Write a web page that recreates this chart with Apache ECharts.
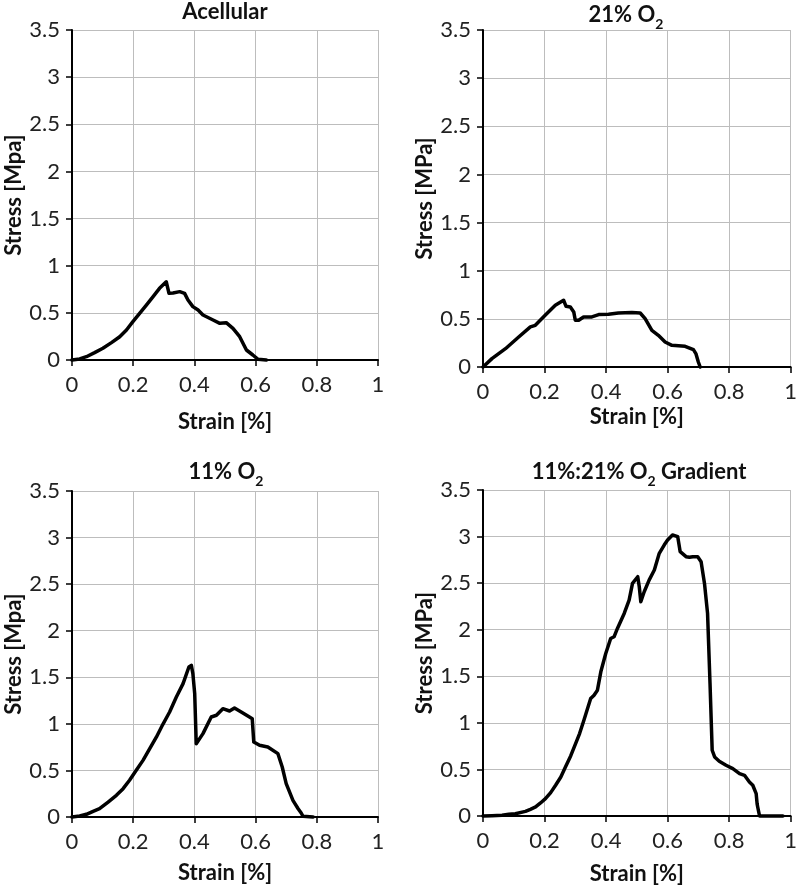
<!DOCTYPE html>
<html>
<head>
<meta charset="utf-8">
<script src="https://cdn.jsdelivr.net/npm/echarts@6/dist/echarts.min.js"></script>
<style>html,body{margin:0;padding:0;background:#fff}#c{width:800px;height:888px}</style>
</head>
<body>
<div id="c"></div>
<script>
// ---- data (strain, stress) ----
const acellularStrain = [0,0.025,0.047,0.074,0.101,0.129,0.156,0.178,0.199,0.221,0.243,0.265,0.286,0.308,0.312,0.317,0.33,0.352,0.368,0.379,0.395,0.412,0.428,0.461,0.483,0.504,0.526,0.548,0.57,0.591,0.608,0.635];
const acellularStress = [0,0.011,0.035,0.078,0.124,0.184,0.247,0.318,0.407,0.495,0.583,0.672,0.76,0.83,0.82,0.707,0.71,0.725,0.707,0.636,0.566,0.53,0.477,0.424,0.389,0.396,0.336,0.247,0.106,0.053,0.007,0];

const o21Strain = [0,0.029,0.073,0.116,0.154,0.17,0.202,0.235,0.262,0.27,0.284,0.295,0.3,0.311,0.327,0.354,0.376,0.408,0.44,0.484,0.511,0.527,0.549,0.57,0.592,0.614,0.657,0.684,0.692,0.7,0.706];
const o21Stress = [0,0.087,0.19,0.312,0.416,0.433,0.537,0.641,0.693,0.63,0.624,0.572,0.485,0.485,0.52,0.52,0.544,0.547,0.561,0.565,0.561,0.502,0.381,0.329,0.26,0.225,0.215,0.18,0.139,0.052,0];

const o11Strain = [0,0.025,0.047,0.069,0.09,0.118,0.145,0.167,0.188,0.21,0.232,0.254,0.276,0.297,0.319,0.341,0.363,0.382,0.39,0.395,0.401,0.406,0.412,0.428,0.455,0.472,0.493,0.515,0.531,0.553,0.58,0.589,0.594,0.613,0.64,0.673,0.687,0.7,0.722,0.739,0.749,0.755,0.788];
const o11Stress = [0,0.011,0.029,0.061,0.089,0.161,0.233,0.304,0.394,0.501,0.608,0.734,0.859,0.995,1.127,1.288,1.432,1.61,1.628,1.539,1.324,0.787,0.787,0.895,1.074,1.092,1.163,1.138,1.17,1.127,1.074,1.056,0.805,0.77,0.752,0.68,0.537,0.358,0.179,0.089,0.043,0.007,0];

const gradStrain = [0,0.029,0.062,0.084,0.105,0.138,0.154,0.171,0.187,0.203,0.22,0.236,0.253,0.268,0.285,0.301,0.314,0.328,0.35,0.361,0.372,0.383,0.399,0.415,0.426,0.437,0.459,0.475,0.486,0.503,0.508,0.513,0.524,0.54,0.557,0.573,0.589,0.6,0.616,0.633,0.641,0.66,0.671,0.682,0.698,0.709,0.72,0.73,0.738,0.745,0.753,0.768,0.79,0.812,0.834,0.85,0.866,0.877,0.888,0.891,0.893,0.899,0.975];
const gradStress = [0,0.004,0.007,0.018,0.025,0.05,0.072,0.097,0.14,0.186,0.251,0.33,0.419,0.527,0.645,0.778,0.885,1.028,1.261,1.297,1.351,1.548,1.745,1.906,1.924,2.014,2.175,2.318,2.497,2.569,2.461,2.3,2.408,2.533,2.641,2.82,2.909,2.963,3.017,2.999,2.838,2.784,2.777,2.784,2.784,2.73,2.497,2.175,1.422,0.706,0.634,0.588,0.545,0.509,0.455,0.437,0.365,0.33,0.24,0.133,0.097,0,0];

const titles = ['{m|Acellular}', '{m|21% O}{s|2}', '{m|11% O}{s|2}', '{m|11%:21% O}{s|2}{m| Gradient}'];
const yNames = ['Stress [Mpa]', 'Stress [MPa]', 'Stress [Mpa]', 'Stress [MPa]'];
const xName = 'Strain [%]';
const xMin = 0, xMax = 1, xStep = 0.2;
const yMin = 0, yMax = 3.5, yStep = 0.5;

// ---- layout ----
const FONT = 'Lato, "Open Sans", sans-serif';
const grids = [
  {left: 72, top: 30, width: 306, height: 330},
  {left: 483, top: 30, width: 309, height: 337},
  {left: 72, top: 491, width: 306, height: 326},
  {left: 483, top: 490, width: 308, height: 326}
];
const titlePos = [
  {x: 225, y: -4}, {x: 626, y: -1}, {x: 226, y: 456}, {x: 639, y: 456}
];
const xNameGap = [51, 39, 45, 47];
const yNameGap = [47, 46, 47, 46];
const seriesData = [
  [acellularStrain, acellularStress],
  [o21Strain, o21Stress],
  [o11Strain, o11Stress],
  [gradStrain, gradStress]
];

const option = {
  backgroundColor: '#fff',
  animation: false,
  title: titles.map((t, i) => ({
    text: t,
    left: titlePos[i].x,
    top: titlePos[i].y,
    padding: 0,
    textAlign: 'center',
    textStyle: {
      fontFamily: FONT, fontWeight: 'bold', fontSize: 22, color: '#111', lineHeight: 32,
      rich: {
        m: {fontFamily: FONT, fontWeight: 'bold', fontSize: 22, color: '#111', lineHeight: 32},
        s: {fontFamily: FONT, fontWeight: 'bold', fontSize: 14, color: '#111', lineHeight: 14, verticalAlign: 'bottom'}
      }
    }
  })),
  grid: grids,
  xAxis: grids.map((g, i) => ({
    type: 'value', gridIndex: i, min: xMin, max: xMax, interval: xStep,
    name: xName, nameLocation: 'middle', nameGap: xNameGap[i],
    nameTextStyle: {fontFamily: FONT, fontWeight: 'bold', fontSize: 22, color: '#111'},
    axisLine: {show: true, onZero: false, lineStyle: {color: '#000', width: 2}},
    axisTick: {show: true, length: 6, lineStyle: {color: '#000', width: 1.5}},
    axisLabel: {fontFamily: FONT, fontSize: 22, color: '#222', margin: 14},
    splitLine: {show: true, lineStyle: {color: '#bdbdbd', width: 1}}
  })),
  yAxis: grids.map((g, i) => ({
    type: 'value', gridIndex: i, min: yMin, max: yMax, interval: yStep,
    name: yNames[i], nameLocation: 'middle', nameGap: yNameGap[i],
    nameTextStyle: {fontFamily: FONT, fontWeight: 'bold', fontSize: 22, color: '#111'},
    axisLine: {show: true, lineStyle: {color: '#000', width: 2}},
    axisTick: {show: true, length: 6, lineStyle: {color: '#000', width: 1.5}},
    axisLabel: {fontFamily: FONT, fontSize: 22, color: '#222', margin: 12},
    splitLine: {show: true, lineStyle: {color: '#bdbdbd', width: 1}}
  })),
  series: seriesData.map((d, i) => ({
    type: 'line', xAxisIndex: i, yAxisIndex: i,
    data: d[0].map((x, k) => [x, d[1][k]]),
    showSymbol: false, symbol: 'none',
    lineStyle: {color: '#000', width: 3.5, join: 'round', cap: 'round'},
    clip: false
  }))
};
const chart = echarts.init(document.getElementById('c'), null, {renderer: 'canvas'});
chart.setOption(option);
</script>
</body>
</html>
